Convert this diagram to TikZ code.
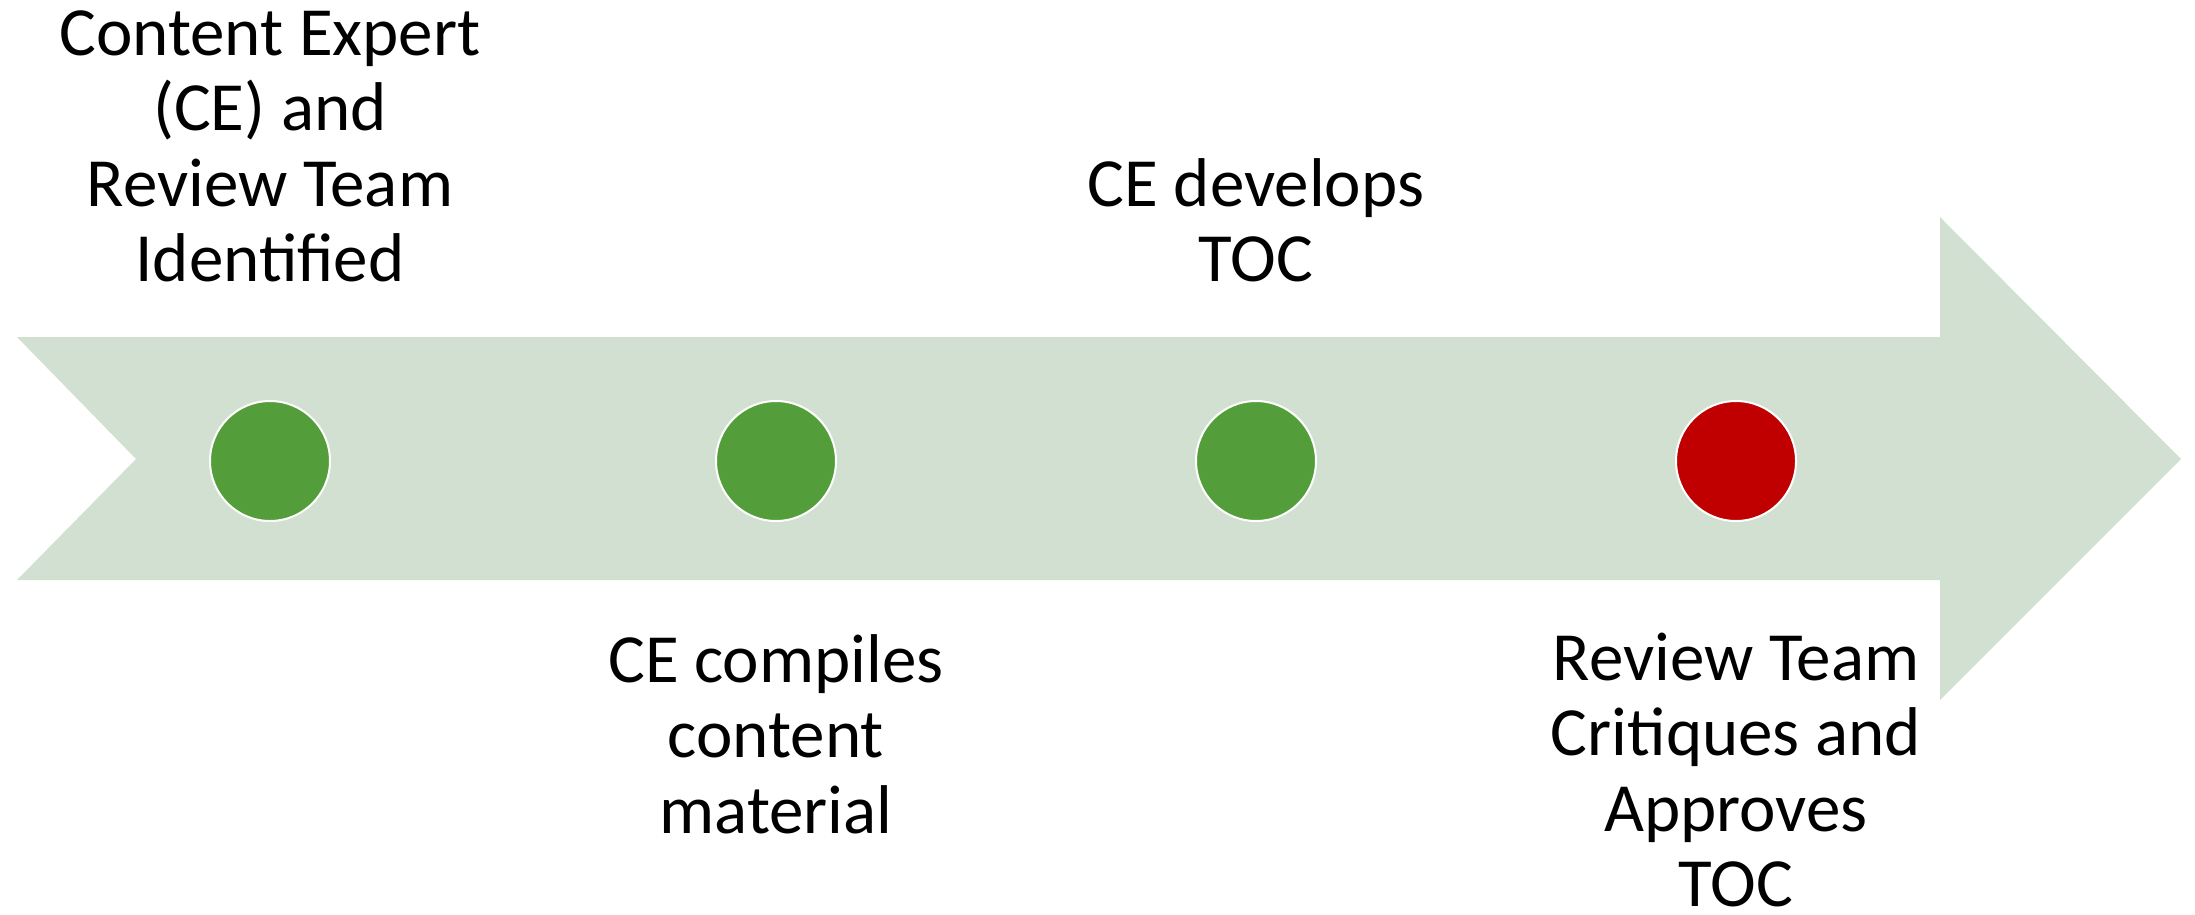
\documentclass[tikz,border=0pt]{standalone}
\usepackage{fontspec}
\setmainfont{Carlito}
\definecolor{bandgreen}{RGB}{209,224,208}
\definecolor{dotgreen}{RGB}{83,158,58}
\definecolor{dotred}{RGB}{192,0,0}
\begin{document}
\begin{tikzpicture}[x=1pt,y=-1pt,
  dot/.style={circle, minimum size=120pt, inner sep=0pt, draw=white, line width=2pt},
  steplabel/.style={align=center, anchor=north, inner sep=0pt,
    font=\fontsize{69}{75.5}\selectfont}]
\useasboundingbox (0,0) rectangle (2195,914);
% timeline band with notched tail and arrow head
\fill[bandgreen] (17,337) -- (1940,337) -- (1940,217) -- (2181,459)
  -- (1940,700) -- (1940,580) -- (17,580) -- (136,459) -- cycle;
% milestones
\node[dot, fill=dotgreen] (m1) at (270,461) {};
\node[dot, fill=dotgreen] (m2) at (776,461) {};
\node[dot, fill=dotgreen] (m3) at (1256,461) {};
\node[dot, fill=dotred]   (m4) at (1736,461) {};
% captions (the rule fixes the height of each first line)
\node[steplabel] (t1) at (270,0) {\rule{0pt}{55pt}Content Expert\\(CE) and\\Review Team\\Identified};
\node[steplabel] (t2) at (776,627) {\rule{0pt}{55pt}CE compiles\\content\\material};
\node[steplabel] (t3) at (1256,151) {\rule{0pt}{55pt}CE develops\\TOC};
\node[steplabel] (t4) at (1736,625) {\rule{0pt}{55pt}Review Team\\Critiques and\\Approves\\TOC};
\end{tikzpicture}
\end{document}
